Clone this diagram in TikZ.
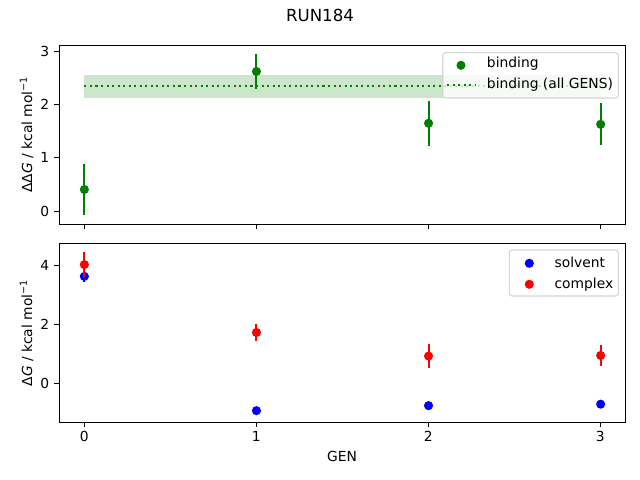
\documentclass[tikz,border=0pt]{standalone}
\usepackage{fontspec}
\setmainfont{DejaVu Sans}
\usepackage{tikz}
\definecolor{mygreen}{RGB}{0,128,0}
\definecolor{myblue}{RGB}{0,0,255}
\definecolor{myred}{RGB}{255,0,0}
\definecolor{myframe}{RGB}{204,204,204}

\begin{document}
\begin{tikzpicture}[x=0.01in, y=-0.01in,
    every node/.style={font=\fontsize{10}{12}\selectfont, inner sep=0pt},
    errbar/.style={line width=1.5pt},
    dot/.style={radius=3.3pt},
    axtick/.style={line width=0.7pt},
    axframe/.style={line width=0.7pt},
    dotline/.style={mygreen, line width=1.5pt, dash pattern=on 1.5pt off 2.5pt},
    legendbox/.style={draw=myframe, fill=white, fill opacity=0.8, draw opacity=0.8, rounded corners=2pt, line width=0.8pt}]
    \useasboundingbox (0,0) rectangle (640,480);

    % basics
    \node[anchor=base, font=\fontsize{12}{14}\selectfont] (title) at (320,22) {RUN184};
    \foreach \gx in {0,1,2,3} {
        \draw[axtick] (84.3+172*\gx,224) -- ++(0,4.9);
        \draw[axtick] (84.3+172*\gx,422) -- ++(0,4.9);
        \node[anchor=base] (xt\gx) at (84.3+172*\gx,442) {\gx};
    }
    \foreach \gy in {0,1,2,3} {
        \draw[axtick] (59,211.3-53.4*\gy) -- ++(-4.9,0);
        \node[anchor=east] (yt\gy) at (49.5,211.3-53.4*\gy) {\gy};
    }
    \foreach \gy in {0,2,4} {
        \draw[axtick] (59,383.3-29.5*\gy) -- ++(-4.9,0);
        \node[anchor=east] (yb\gy) at (49.5,383.3-29.5*\gy) {\gy};
    }
    \node[anchor=base] (gen) at (342,462) {GEN};
    \node[rotate=90, anchor=base] (ddglabel) at (32,134.5) {ΔΔ\textit{G} / kcal mol\textsuperscript{−1}};
    \node[rotate=90, anchor=base] (dglabel) at (32,333) {Δ\textit{G} / kcal mol\textsuperscript{−1}};

    % binding
    \begin{scope}[shift={(0.843in,-2.113in)}, x=1.72in, y=0.534in]
        \fill[mygreen, fill opacity=0.2] (0,2.13) rectangle (3,2.55);
        \draw[dotline] (0,2.35) -- (3,2.35);
        \foreach \gx/\gy/\ge in {0/0.41/0.48, 1/2.62/0.32, 2/1.65/0.42, 3/1.63/0.39} {
            \draw[errbar, mygreen] (\gx,\gy-\ge) -- (\gx,\gy+\ge);
            \fill[mygreen] (\gx,\gy) circle[dot];
        }
    \end{scope}

    % solvent and complex
    \begin{scope}[shift={(0.843in,-3.833in)}, x=1.72in, y=0.295in]
        \draw[errbar, myblue] (0,3.44) -- (0,3.82);
        \foreach \gx/\gy in {0/3.63, 1/-0.92, 2/-0.75, 3/-0.70}
            \fill[myblue] (\gx,\gy) circle[dot];
        \foreach \gx/\gy/\ge in {0/4.03/0.42, 1/1.73/0.30, 2/0.93/0.40, 3/0.95/0.35} {
            \draw[errbar, myred] (\gx,\gy-\ge) -- (\gx,\gy+\ge);
            \fill[myred] (\gx,\gy) circle[dot];
        }
    \end{scope}

    \draw[axframe] (59,45) rectangle (625,224);
    \draw[axframe] (59,243) rectangle (625,422);

    % legends
    \draw[legendbox] (442.7,52.7) rectangle (618.3,98);
    \fill[mygreen] (461,65.3) circle[dot];
    \node[anchor=base west] (lbind) at (486.7,67.7) {binding};
    \draw[dotline] (447,85) -- (475,85);
    \node[anchor=base west] (lall) at (486.7,88.5) {binding (all GENS)};

    \draw[legendbox] (509.3,250) rectangle (618.3,296);
    \fill[myblue] (529.3,263.3) circle[dot];
    \node[anchor=base west] (lsolv) at (554.3,267.3) {solvent};
    \fill[myred] (529.3,284.3) circle[dot];
    \node[anchor=base west] (lcomp) at (554.3,288.3) {complex};
\end{tikzpicture}
\end{document}
